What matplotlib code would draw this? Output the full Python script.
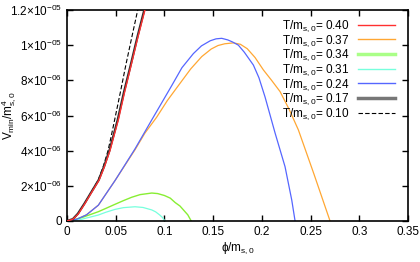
import matplotlib
matplotlib.use('Agg')
import matplotlib.pyplot as plt
import numpy as np
from matplotlib.ticker import FixedLocator, FuncFormatter

plt.rcParams['font.family'] = ['Liberation Sans', 'DejaVu Sans']
plt.rcParams['mathtext.fontset'] = 'custom'
plt.rcParams['mathtext.rm'] = 'Liberation Sans'
plt.rcParams['mathtext.it'] = 'Liberation Sans:italic'
plt.rcParams['font.size'] = 8

# curves: phi / m_s0 and V_min / m_s0^4 (in units of 1e-6)
phi_040 = [0, 0.006, 0.0116, 0.0185, 0.025, 0.033, 0.0385, 0.0441, 0.048, 0.0527,
           0.059, 0.066, 0.073, 0.080, 0.083]
v_040 = [0, 0.1, 0.4, 1.0, 1.6, 2.33, 3.1, 4.0, 4.8, 5.75,
         7.3, 8.9, 10.5, 12.0, 12.7]

phi_037 = [0, 0.01, 0.02, 0.0322, 0.0493, 0.0698, 0.08, 0.092, 0.103, 0.1143, 0.127,
           0.1383, 0.148, 0.155, 0.162, 0.1708, 0.178, 0.185, 0.193, 0.2016, 0.21,
           0.2187, 0.228, 0.2375, 0.2536, 0.270]
v_037 = [0, 0.1, 0.35, 0.9, 2.3, 4.05, 5.0, 5.9, 6.85, 7.7, 8.65,
         9.35, 9.78, 9.98, 10.08, 10.13, 10.05, 9.8, 9.3, 8.59, 8.0,
         7.36, 6.35, 5.18, 2.65, 0]

phi_034 = [0, 0.005, 0.0151, 0.0322, 0.04, 0.0493, 0.058, 0.0664, 0.075, 0.087,
           0.093, 0.1, 0.106, 0.111, 0.116, 0.12, 0.124, 0.1275]
v_034 = [0, 0.04, 0.19, 0.53, 0.72, 0.95, 1.16, 1.35, 1.5, 1.59,
         1.56, 1.45, 1.3, 1.05, 0.85, 0.6, 0.35, 0]

phi_031 = [0, 0.005, 0.0151, 0.0322, 0.04, 0.0493, 0.058, 0.0698, 0.078, 0.087,
           0.091, 0.095, 0.098, 0.1006]
v_031 = [0, 0.02, 0.1, 0.34, 0.5, 0.66, 0.76, 0.81, 0.77, 0.63,
         0.52, 0.35, 0.2, 0]

phi_024 = [0, 0.01, 0.02, 0.0322, 0.0493, 0.0698, 0.087, 0.097, 0.1075, 0.118, 0.1297,
           0.138, 0.147, 0.153, 0.1588, 0.165, 0.170, 0.1759, 0.182, 0.1913, 0.197,
           0.2033, 0.2136, 0.2238, 0.2307, 0.2341]
v_024 = [0, 0.1, 0.35, 0.9, 2.3, 4.1, 5.75, 6.7, 7.7, 8.72, 9.52,
         9.96, 10.25, 10.36, 10.39, 10.3, 10.18, 10.0, 9.6, 8.87, 8.15,
         7.05, 5.0, 3.09, 1.19, 0]

phi_017 = [0, 0.006, 0.0112, 0.018, 0.0245, 0.0325, 0.038, 0.0435, 0.0474, 0.052,
           0.0583, 0.0655, 0.0724, 0.0793, 0.0823]
v_017 = [0, 0.11, 0.42, 1.0, 1.6, 2.33, 3.1, 4.0, 4.8, 5.75,
         7.3, 8.9, 10.5, 12.0, 12.7]

phi_010 = [0, 0.006, 0.0115, 0.018, 0.0245, 0.032, 0.0372, 0.0421, 0.0453, 0.0489,
           0.0547, 0.0605, 0.0667, 0.0726, 0.075]
v_010 = [0, 0.1, 0.42, 1.0, 1.6, 2.33, 3.1, 4.0, 4.8, 5.75,
         7.3, 8.9, 10.5, 12.0, 12.6]

temps = ['0.40', '0.37', '0.34', '0.31', '0.24', '0.17', '0.10']

fig = plt.figure(figsize=(4.2, 2.62), dpi=100)
ax = fig.add_axes([0.1595, 0.1565, 0.8119, 0.8053])

def s(v):
    return np.array(v) * 1e-6

ax.plot(phi_040, s(v_040), color='#ff3030', lw=1.0, zorder=5)
ax.plot(phi_037, s(v_037), color='#ffa733', lw=0.9)
ax.plot(phi_034, s(v_034), color='#88ee33', lw=1.0)
ax.plot(phi_031, s(v_031), color='#77ffdd', lw=0.9)
ax.plot(phi_024, s(v_024), color='#5566ff', lw=0.9)
ax.plot(phi_017, s(v_017), color='#303030', lw=1.6, zorder=4)
ax.plot(phi_010, s(v_010), color='black', lw=0.8, ls=(0, (4, 2)))

# legend keys
styles = [dict(color='#ff3030', lw=1.0), dict(color='#ffa733', lw=1.0),
          dict(color='#aaff88', lw=2.5), dict(color='#77ffdd', lw=1.0),
          dict(color='#5566ff', lw=1.0), dict(color='#777777', lw=2.5),
          dict(color='black', lw=0.8, ls=(0, (4, 2)))]
handles = [plt.Line2D([], [], **st) for st in styles]
labels = [r'T/m$_{\rm s,0}$= ' + t for t in temps]
ax.legend(handles, labels, loc='upper right', frameon=False, markerfirst=False,
          handlelength=3.1, labelspacing=-0.08, handletextpad=0.7,
          borderaxespad=0.3, fontsize=8.5, bbox_to_anchor=(0.985, 1.0))

ax.set_xlim(0, 0.35)
ax.set_ylim(0, 1.2e-5)
ax.xaxis.set_major_locator(FixedLocator(np.arange(0, 0.351, 0.05)))
ax.yaxis.set_major_locator(FixedLocator(np.arange(0, 1.21e-5, 2e-6)))

ylabels = {0: '0', 2: r'2$\times$10$^{-06}$', 4: r'4$\times$10$^{-06}$',
           6: r'6$\times$10$^{-06}$', 8: r'8$\times$10$^{-06}$',
           10: r'1$\times$10$^{-05}$', 12: r'1.2$\times$10$^{-05}$'}
ax.yaxis.set_major_formatter(FuncFormatter(lambda v, p: ylabels[int(round(v * 1e6))]))
ax.xaxis.set_major_formatter(FuncFormatter(lambda v, p: '0' if abs(v) < 1e-9 else ('%.2f' % v).rstrip('0')))

ax.tick_params(direction='in', top=True, right=True, length=4, width=1, labelsize=8.5)
for sp in ax.spines.values():
    sp.set_linewidth(1.2)

ax.set_xlabel('\u03d5/m$_{\\rm s,0}$', fontsize=8.5, labelpad=2)
ax.set_ylabel(r'V$_{\rm min}$/m$^4_{\rm s,0}$', fontsize=8.5)
ax.yaxis.set_label_coords(-0.14, 0.5)

fig.savefig('out.png', dpi=100)
